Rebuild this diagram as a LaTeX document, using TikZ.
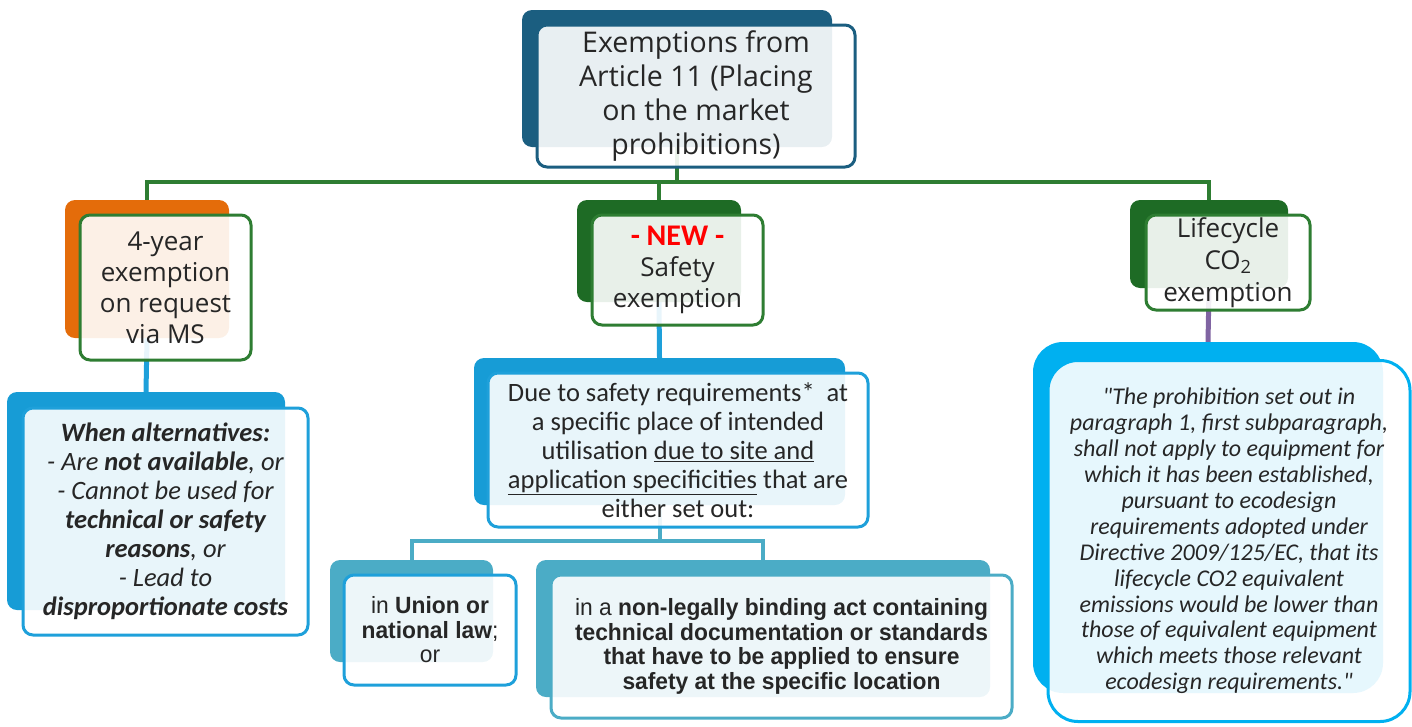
\documentclass[tikz,border=0pt]{standalone}
\usepackage{fontspec}
\setmainfont{Carlito}
\newfontfamily\headfont{Open Sans}
\newfontfamily\narrowfont[FakeStretch=0.97]{Liberation Sans}
\usepackage{xcolor}
\definecolor{topblue}{HTML}{1B5E80}
\definecolor{orng}{HTML}{E46C0A}
\definecolor{dgreen}{HTML}{1E6B25}
\definecolor{bgreen}{HTML}{2E7D32}
\definecolor{sky}{HTML}{179CD6}
\definecolor{skyline}{HTML}{1EA0DA}
\definecolor{tealc}{HTML}{4BACC6}
\definecolor{cyanc}{HTML}{00B0F0}
\definecolor{purp}{HTML}{8064A2}
\pgfdeclarelayer{background}
\pgfsetlayers{background,main}
\tikzset{
  backbox/.style={rounded corners=10pt, inner sep=0pt, draw=none},
  frontbox/.style={rounded corners=10pt, fill=white, fill opacity=0.9,
    text opacity=1, line width=3pt, inner sep=0pt, align=center, text=black!85},
  headtxt/.style={font=\fontsize{26}{31}\selectfont\headfont},
  calitxt/.style={font=\fontsize{26.5}{29}\selectfont},
  narrowtxt/.style={font=\fontsize{23.5}{24.5}\selectfont\narrowfont},
  gline/.style={draw=bgreen, line width=3.5pt},
  bline/.style={draw=skyline, line width=5pt},
  tline/.style={draw=tealc, line width=4pt},
  pline/.style={draw=purp, line width=5pt},
}
\begin{document}
\begin{tikzpicture}[x=1pt,y=-1pt]
\useasboundingbox (0,0) rectangle (1412,726);

% header
\node[backbox, fill=topblue, minimum width=310pt, minimum height=137pt] (topback) at (677,78.5) {};
\node[frontbox, draw=topblue, minimum width=318pt, minimum height=142pt,
  font=\fontsize{28.5}{34.3}\selectfont\headfont] (top) at (696,96)
  {Exemptions from\\Article 11 (Placing\\on the market\\prohibitions)};

% 4-year exemption branch
\node[backbox, fill=orng, minimum width=164pt, minimum height=138pt] (fourback) at (147,269) {};
\node[frontbox, draw=bgreen, minimum width=171pt, minimum height=145pt, headtxt] (four) at (165.5,287.5)
  {4-year\\exemption\\on request\\via MS};

\node[backbox, fill=sky, minimum width=278pt, minimum height=218pt] (altback) at (146,501) {};
\node[frontbox, draw=skyline, minimum width=285pt, minimum height=227pt, calitxt] (alt) at (165.5,521.5)
  {\itshape\bfseries When alternatives:\\
   \itshape - Are \textbf{not available}, or\\
   \itshape - Cannot be used for\\
   \itshape\bfseries technical or safety\\
   \itshape\textbf{reasons}, or\\
   \itshape - Lead to\\
   \itshape\bfseries disproportionate costs};

% safety exemption branch
\node[backbox, fill=dgreen, minimum width=164pt, minimum height=102pt] (safeback) at (659,251) {};
\node[frontbox, draw=bgreen, minimum width=171pt, minimum height=110pt, headtxt] (safe) at (677.5,270)
  {{\fontsize{30}{31}\selectfont\rmfamily\bfseries\color{red}- NEW -}\\Safety\\exemption};

\node[backbox, fill=sky, minimum width=371pt, minimum height=147pt] (dueback) at (659.5,431.5) {};
\node[frontbox, draw=skyline, minimum width=380pt, minimum height=154pt, calitxt] (due) at (678,450)
  {Due to safety requirements*\ \ at\\
   a specific place of intended\\
   utilisation \underline{due to site and}\\
   \underline{application specificities} that are\\
   either set out:};

\node[backbox, fill=tealc, minimum width=163pt, minimum height=102pt] (lawback) at (411.5,611) {};
\node[frontbox, draw=skyline, minimum width=172pt, minimum height=110pt, narrowtxt] (law) at (430,630)
  {in \textbf{Union or}\\\textbf{national law};\\or};

\node[backbox, fill=tealc, minimum width=454pt, minimum height=137pt] (actback) at (763,628.5) {};
\node[frontbox, draw=tealc, minimum width=461pt, minimum height=143pt, narrowtxt] (act) at (781.5,646.5)
  {in a \textbf{non-legally binding act containing}\\
   \textbf{technical documentation or standards}\\
   \textbf{that have to be applied to ensure}\\
   \textbf{safety at the specific location}};

% lifecycle CO2 branch
\node[backbox, fill=dgreen, minimum width=158pt, minimum height=88pt] (lifeback) at (1209,244) {};
\node[frontbox, draw=bgreen, minimum width=164pt, minimum height=95pt,
  font=\fontsize{26}{32}\selectfont\headfont] (life) at (1228,262.5)
  {Lifecycle\\CO\textsubscript{2}\\exemption};

\node[backbox, rounded corners=30pt, fill=cyanc, minimum width=350pt, minimum height=351pt] (quoteback) at (1208,517.5) {};
\node[frontbox, rounded corners=30pt, draw=cyanc, minimum width=362pt, minimum height=361pt,
  font=\fontsize{24}{25.9}\selectfont\itshape] (quote) at (1229,541)
  {\textquotedbl The prohibition set out in\\
   paragraph 1, first subparagraph,\\
   shall not apply to equipment for\\
   which it has been established,\\
   pursuant to ecodesign\\
   requirements adopted under\\
   Directive 2009/125/EC, that its\\
   lifecycle CO2 equivalent\\
   emissions would be lower than\\
   those of equivalent equipment\\
   which meets those relevant\\
   ecodesign requirements.\textquotedbl};

% connectors, kept behind the boxes
\begin{pgfonlayer}{background}
  \coordinate (bus) at (0,182);
  \coordinate (bus2) at (0,541);
  \draw[gline] (topback.south) -- (topback.south |- bus);
  \draw[gline] (fourback.north) -- (fourback.north |- bus) -- (lifeback.north |- bus) -- (lifeback.north);
  \draw[gline] (safeback.north) -- (safeback.north |- bus);
  \draw[bline] (fourback.south) -- (altback.north);
  \draw[bline] (safeback.south) -- (dueback.north);
  \draw[pline] (lifeback.south) -- (quoteback.north);
  \draw[tline] (dueback.south) -- (dueback.south |- bus2);
  \draw[tline] (lawback.north) -- (lawback.north |- bus2) -- (actback.north |- bus2) -- (actback.north);
\end{pgfonlayer}
\end{tikzpicture}
\end{document}
